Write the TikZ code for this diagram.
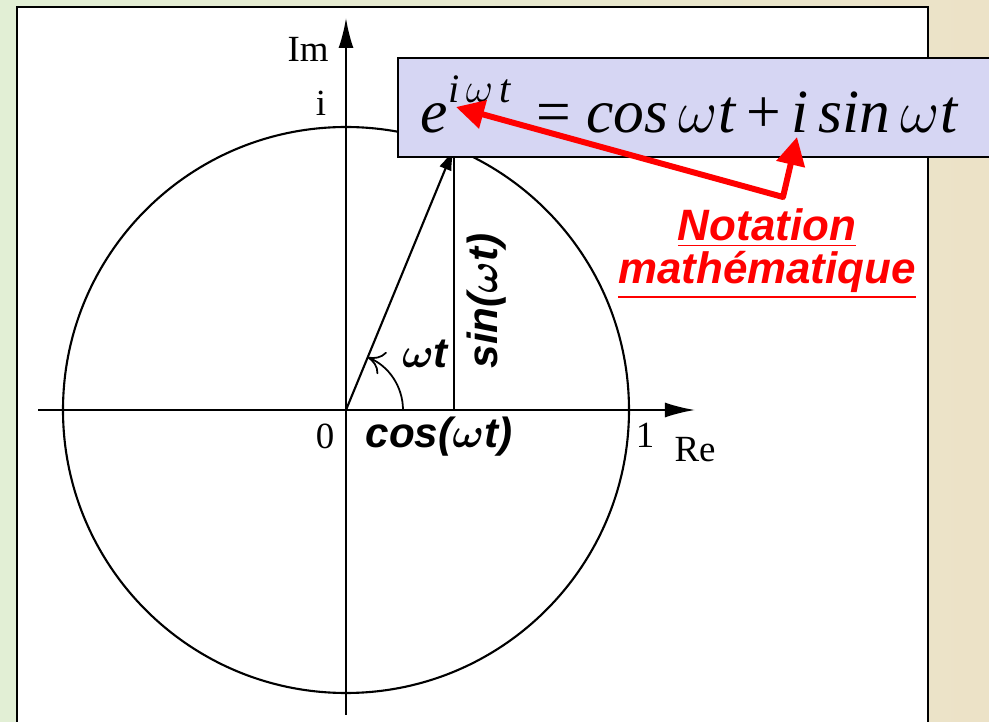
\documentclass[tikz,border=0pt]{standalone}
\usepackage{fontspec}
\usepackage{bm}
\setmainfont{Liberation Serif}
\newfontfamily\notefont{Liberation Sans}
\usetikzlibrary{arrows.meta,calc}
\definecolor{bgGreen}{HTML}{E2EFD5}
\definecolor{bgBeige}{HTML}{ECE2C7}
\definecolor{boxBlue}{HTML}{D6D6F3}
\definecolor{noteRed}{HTML}{FF0000}
\tikzset{
  axis/.style={line width=0.6pt,-{Latex[length=3mm,width=1.5mm]}},
  lbl/.style={font=\fontsize{10.5}{12}\selectfont,inner sep=0pt},
  boldlbl/.style={font=\notefont\bfseries\itshape\fontsize{12}{14}\selectfont,inner sep=0pt},
  notelbl/.style={text=noteRed,inner sep=0pt,font=\notefont\bfseries\itshape\fontsize{12.5}{14}\selectfont},
  notearrow/.style={noteRed,line width=1.7pt,line join=round,
    {Triangle[length=2.8mm,width=2.8mm]}-{Triangle[length=2.8mm,width=2.8mm]}}
}
\newcommand{\omg}{$\bm{\omega}$}
\newcommand{\womg}{$\omega$}
\begin{document}
\begin{tikzpicture}
  \useasboundingbox (0,0) rectangle (9.89,-7.22);
  \clip (0,0) rectangle (9.89,-7.22);
  \shade[left color=bgGreen,right color=bgBeige] (0,0) rectangle (9.89,-7.22);
  \draw[line width=0.7pt,fill=white] (0.17,-0.07) rectangle (9.28,-7.5);
  % unit circle and axes
  \coordinate (O) at (3.46,-4.10);
  \coordinate (P) at ($(O)+(67.6:2.83)$);
  \coordinate (Q) at (P |- O);
  \coordinate (xl) at (0.38,-4.10);
  \coordinate (xr) at (6.95,-4.10);
  \coordinate (yb) at (3.46,-7.15);
  \coordinate (yt) at (3.46,-0.18);
  \draw[line width=0.6pt] (O) circle (2.83);
  \draw[axis] (xl) -- (xr);
  \draw[axis] (yb) -- (yt);
  \draw[line width=0.6pt] (P) -- (Q);
  \draw[line width=0.6pt,-{Latex[length=2.2mm,width=1.3mm]}] (O) -- (P);
  \draw[line width=0.5pt,-{To[length=1.6mm,width=2.4mm]}] ([shift={(0:0.57)}]O) arc (0:67.6:0.57);
  \node[lbl] (im) at (3.08,-0.49) {Im};
  \node[lbl] (iunit) at (3.21,-1.03) {i};
  \node[lbl] (zero) at (3.25,-4.36) {0};
  \node[lbl] (one) at (6.45,-4.35) {1};
  \node[lbl] (re) at (6.95,-4.50) {Re};
  \node[boldlbl] (wt) at (4.25,-3.54) {\omg t};
  \node[boldlbl] (cosw) at (4.39,-4.37) {cos(\omg t)};
  \node[boldlbl,rotate=90] (sinw) at (4.87,-3.01) {sin(\omg t)};
  % Euler box
  \draw[line width=0.7pt,fill=boxBlue] (3.98,-0.58) rectangle (10.2,-1.57);
  \node[anchor=base west,inner sep=0pt,font=\fontsize{17.5}{20}\selectfont] (euler) at (4.20,-1.33)
    {\textit{e}\raisebox{0.5em}{\fontsize{11.5}{12}\selectfont\textit{i}\,\womg\,\textit{t}}\hspace{0.4em}=
     \textit{cos}\,\womg\textit{t}\,+\,\textit{i}\,\textit{sin}\,\womg\textit{t}};
  % note
  \node[notelbl] (note1) at (7.67,-2.28) {\underline{Notation}};
  \node[notelbl] (note2) at (7.67,-2.75) {\underline{mathématique}};
  \coordinate (etip) at (4.56,-1.07);
  \coordinate (vtx) at (7.83,-1.97);
  \coordinate (itip) at (7.97,-1.37);
  \draw[notearrow] (etip) -- (vtx) -- (itip);
\end{tikzpicture}
\end{document}
